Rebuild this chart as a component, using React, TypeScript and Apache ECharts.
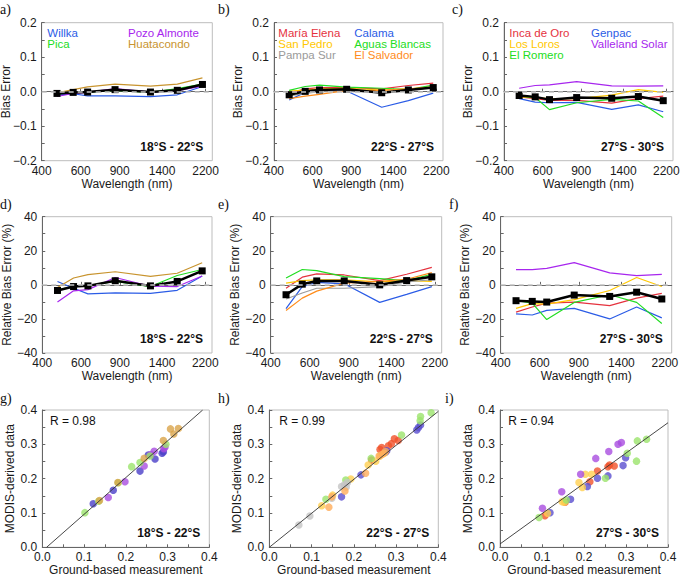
import React, { useEffect, useRef } from "react";
import * as echarts from "echarts";

// ---------------- data ----------------
const WAVELENGTHS = [469, 555, 645, 858, 1240, 1640, 2130];
const WAVE_TICKS = [400, 600, 900, 1400, 2200];
const WAVE_MIN = 400;
const WAVE_MAX = 2360;
const BIAS_MIN = -0.2;
const BIAS_MAX = 0.2;
const BIAS_TICKS = [-0.2, -0.1, 0, 0.1, 0.2];
const REGIONS = ["18°S - 22°S", "22°S - 27°S", "27°S - 30°S"];
const PANEL_LETTERS = ["a)", "b)", "c)", "d)", "e)", "f)", "g)", "h)", "i)"];
const R_VALUES = ["0.98", "0.99", "0.94"];
const FIT_SLOPE = [1.07, 0.99, 0.883];
const FIT_INTERCEPT = [-0.011, 0.0, 0.0097];

const NORTH_SITES = ["Willka", "Pozo Almonte", "Pica", "Huatacondo"];
const CENTRAL_SITES = ["María Elena", "Calama", "San Pedro", "Aguas Blancas", "Pampa Sur", "El Salvador"];
const SOUTH_SITES = ["Inca de Oro", "Genpac", "Los Loros", "Valleland Solar", "El Romero"];

const NORTH_COLORS = ["#2b5ce6", "#a726ee", "#22dd22", "#c8942f"];
const CENTRAL_COLORS = ["#e5323e", "#2b5ce6", "#ffc800", "#22dd22", "#9a9a9a", "#ff8c1a"];
const SOUTH_COLORS = ["#e5323e", "#2b5ce6", "#ffc800", "#a726ee", "#22dd22"];

const NORTH_DOT_COLORS = ["#4a3fc8", "#a94de0", "#9be36b", "#d9a44a"];
const CENTRAL_DOT_COLORS = ["#f0522a", "#5a4fd0", "#ffd050", "#9be36b", "#c4c4c4", "#ffad5a"];
const SOUTH_DOT_COLORS = ["#f0522a", "#5a4fd0", "#ffd050", "#a94de0", "#9be36b"];

// Bias error (absolute)
const NORTH_BIAS = [
  [-0.010, -0.006, -0.012, -0.012, -0.014, -0.009, 0.015],
  [-0.014, -0.005, -0.002, 0.009, -0.001, 0.003, 0.016],
  [-0.004, -0.002, -0.001, 0.004, -0.002, 0.009, 0.022],
  [-0.003, 0.006, 0.014, 0.022, 0.016, 0.022, 0.040],
];
const NORTH_BIAS_MEAN = [-0.005, -0.002, -0.001, 0.006, -0.001, 0.004, 0.021];

const CENTRAL_BIAS = [
  [-0.005, 0.008, 0.012, 0.012, 0.008, 0.018, 0.025],
  [-0.024, -0.002, 0.004, 0.002, -0.045, -0.026, -0.004],
  [0.002, 0.005, 0.008, 0.010, 0.005, 0.008, 0.010],
  [0.004, 0.015, 0.019, 0.013, 0.010, 0.006, 0.019],
  [-0.012, -0.005, 0.000, 0.001, -0.002, 0.005, 0.012],
  [-0.020, -0.013, -0.008, 0.004, 0.004, 0.008, 0.014],
];
const CENTRAL_BIAS_MEAN = [-0.009, 0.001, 0.005, 0.007, -0.003, 0.005, 0.012];

const SOUTH_BIAS = [
  [-0.015, -0.020, -0.025, -0.025, -0.033, -0.020, -0.013],
  [-0.020, -0.030, -0.032, -0.031, -0.051, -0.038, -0.058],
  [-0.015, -0.017, -0.020, -0.020, -0.010, 0.006, -0.002],
  [0.010, 0.018, 0.020, 0.029, 0.017, 0.016, 0.017],
  [-0.012, -0.017, -0.052, -0.032, -0.022, -0.027, -0.075],
];
const SOUTH_BIAS_MEAN = [-0.011, -0.015, -0.023, -0.017, -0.019, -0.014, -0.026];

// Relative bias error (%)
const NORTH_REL = [
  [2, -2, -5.3, -4.7, -5, -3.2, 5.2],
  [-10, -3.5, -2.8, 4.3, -0.8, -1, 5.2],
  [-3, -1, -0.5, 2, -1, 5.5, 9],
  [-1.5, 4, 6, 7.7, 5, 6.8, 13],
];
const NORTH_REL_MEAN = [-3.3, -1, -0.6, 2.4, -0.6, 2, 8.2];

const CENTRAL_REL = [
  [-2, 4.5, 6.4, 5.8, 2.5, 6.2, 10.3],
  [-14, -1, 1.4, 0.6, -10.3, -5.6, -1],
  [1, 2.5, 3, 3, 1.7, 2.5, 2],
  [4, 9, 8.3, 4.8, 3.7, 2.5, 6.2],
  [-8.3, -4.8, -2, -2, -1, 1.7, 3],
  [-15, -7.8, -3.7, 1, 2, 3.3, 7.2],
];
const CENTRAL_REL_MEAN = [-5.8, 0.4, 2.3, 2.3, 0, 2.5, 4.7];

const SOUTH_REL = [
  [-16, -13, -10.7, -10.1, -12.2, -7.8, -5],
  [-17, -17.7, -15, -13.8, -20, -13, -19.4],
  [-13.8, -11, -11.3, -8.7, -3.3, 4.3, -1],
  [8.9, 8.9, 9.7, 13, 7, 5.4, 6.2],
  [-9.1, -10.7, -20.4, -10.3, -5.8, -10.3, -22.7],
];
const SOUTH_REL_MEAN = [-9.3, -9.7, -10.1, -6, -6.8, -4.3, -8.3];

// Ground-based vs MODIS-derived
const NORTH_MATCH = [
  [[0.122, 0.127], [0.170, 0.166], [0.234, 0.222], [0.254, 0.269], [0.270, 0.257], [0.287, 0.274], [0.290, 0.278]],
  [[0.158, 0.145], [0.198, 0.191], [0.244, 0.237], [0.260, 0.270], [0.268, 0.280], [0.294, 0.292], [0.291, 0.287]],
  [[0.102, 0.101], [0.135, 0.134], [0.182, 0.188], [0.214, 0.235], [0.234, 0.247], [0.258, 0.266], [0.296, 0.300]],
  [[0.137, 0.136], [0.181, 0.189], [0.244, 0.259], [0.290, 0.311], [0.307, 0.345], [0.315, 0.330], [0.326, 0.346]],
];
const CENTRAL_MATCH = [
  [[0.242, 0.254], [0.262, 0.285], [0.266, 0.291], [0.282, 0.296], [0.289, 0.302], [0.296, 0.316], [0.305, 0.311]],
  [[0.171, 0.147], [0.217, 0.211], [0.275, 0.277], [0.278, 0.281], [0.349, 0.342], [0.353, 0.349], [0.358, 0.356]],
  [[0.124, 0.121], [0.150, 0.152], [0.193, 0.199], [0.234, 0.240], [0.252, 0.251], [0.262, 0.266], [0.272, 0.274]],
  [[0.134, 0.140], [0.181, 0.196], [0.241, 0.259], [0.313, 0.327], [0.357, 0.369], [0.358, 0.381], [0.383, 0.392]],
  [[0.070, 0.065], [0.096, 0.091], [0.148, 0.143], [0.171, 0.177], [0.178, 0.182], [0.182, 0.176], [0.185, 0.189]],
  [[0.141, 0.117], [0.148, 0.147], [0.179, 0.164], [0.228, 0.216], [0.260, 0.266], [0.268, 0.271], [0.275, 0.279]],
];
const SOUTH_MATCH = [
  [[0.107, 0.092], [0.155, 0.131], [0.214, 0.191], [0.232, 0.222], [0.257, 0.235], [0.261, 0.240], [0.272, 0.237]],
  [[0.119, 0.101], [0.168, 0.140], [0.208, 0.177], [0.232, 0.201], [0.257, 0.208], [0.293, 0.238], [0.299, 0.261]],
  [[0.113, 0.099], [0.148, 0.133], [0.153, 0.131], [0.188, 0.189], [0.196, 0.174], [0.203, 0.213], [0.218, 0.213]],
  [[0.101, 0.114], [0.147, 0.162], [0.192, 0.213], [0.228, 0.259], [0.259, 0.279], [0.281, 0.300], [0.289, 0.305]],
  [[0.093, 0.087], [0.158, 0.138], [0.251, 0.201], [0.303, 0.274], [0.325, 0.251], [0.327, 0.310], [0.349, 0.315]],
];

// ---------------- layout ----------------
const FONT = 'Arial, "Liberation Sans", Helvetica, sans-serif';
const SERIF = '"Liberation Serif", "Times New Roman", serif';
const TEXT = "#1a1a1a";
// [left, top, right, bottom] of each plot area
const BOXES = [
  [41.7, 22.7, 212.3, 160.7],
  [274, 22.7, 443, 160.7],
  [504, 22.7, 673, 160.7],
  [41.7, 216.7, 212, 353],
  [270.7, 216.7, 441.7, 353],
  [500.7, 216.7, 671.7, 353],
  [42.3, 410, 209.3, 547.3],
  [269.3, 410, 438.3, 547.3],
  [500, 410, 668, 547.3],
];
const LETTER_POS = [
  [0, 9], [218, 9], [452, 9],
  [0, 204], [218, 204], [449, 204],
  [0, 398], [218, 398], [445, 398],
];
const LEGEND_COL = [[5.6, 86.3], [4.3, 80.3], [5.3, 87]];
const R_OFFSET = [7.7, 10, 8.3];
const BIAS_NAME_OFFSET = 36;

const fmt = (digits: number) => (v: number) => {
  const x = Math.abs(v) < 1e-9 ? 0 : v;
  return (digits > 0 ? x.toFixed(digits) : String(Math.round(x))).replace("-", "\u2212");
};

function App() {
  const wrapRef = useRef<HTMLDivElement>(null);
  const ref = useRef<HTMLDivElement>(null);
  useEffect(() => {
    document.body.style.margin = "0";
    if (!ref.current || !wrapRef.current) return;
    const chart = echarts.init(ref.current, undefined, { renderer: "svg" });

    const grids: any[] = [];
    const xAxes: any[] = [];
    const yAxes: any[] = [];
    const series: any[] = [];
    const graphics: any[] = [];

    const axisLine = { show: true, lineStyle: { color: "#666", width: 1 } };
    const labelStyle = { color: TEXT, fontSize: 12, fontFamily: FONT };
    const nameStyle = { color: TEXT, fontSize: 12, fontFamily: FONT };

    BOXES.forEach((b) => {
      grids.push({
        left: b[0], top: b[1], width: b[2] - b[0], height: b[3] - b[1],
        show: true, borderColor: "#bdbdbd", borderWidth: 1, backgroundColor: "transparent",
      });
    });

    const siteGroups = [
      { sites: NORTH_SITES, colors: NORTH_COLORS, dots: NORTH_DOT_COLORS, bias: NORTH_BIAS, biasMean: NORTH_BIAS_MEAN, rel: NORTH_REL, relMean: NORTH_REL_MEAN, match: NORTH_MATCH },
      { sites: CENTRAL_SITES, colors: CENTRAL_COLORS, dots: CENTRAL_DOT_COLORS, bias: CENTRAL_BIAS, biasMean: CENTRAL_BIAS_MEAN, rel: CENTRAL_REL, relMean: CENTRAL_REL_MEAN, match: CENTRAL_MATCH },
      { sites: SOUTH_SITES, colors: SOUTH_COLORS, dots: SOUTH_DOT_COLORS, bias: SOUTH_BIAS, biasMean: SOUTH_BIAS_MEAN, rel: SOUTH_REL, relMean: SOUTH_REL_MEAN, match: SOUTH_MATCH },
    ];

    const makeZeroLine = () => ({
      silent: true, symbol: ["none", "none"], label: { show: false },
      lineStyle: { color: "#c4c4c4", type: [5, 4], width: 1.5 },
      data: [{ yAxis: 0 }],
    });

    // wavelength panels (rows 1 and 2)
    for (let row = 0; row < 2; row++) {
      for (let col = 0; col < 3; col++) {
        const p = row * 3 + col;
        const g = siteGroups[col];
        xAxes.push({
          type: "log", logBase: 10, gridIndex: p, min: WAVE_MIN, max: WAVE_MAX,
          axisLine, splitLine: { show: false }, minorTick: { show: false }, minorSplitLine: { show: false },
          axisTick: { show: true, inside: true, length: 3, lineStyle: { color: "#666" }, customValues: WAVE_TICKS },
          axisLabel: { ...labelStyle, margin: 4, customValues: WAVE_TICKS, formatter: (v: number) => String(Math.round(v)) },
          name: "Wavelength (nm)", nameLocation: "middle", nameGap: 17, nameTextStyle: nameStyle,
        });
        const isBias = row === 0;
        yAxes.push({
          type: "value", gridIndex: p,
          min: isBias ? BIAS_MIN : -40, max: isBias ? BIAS_MAX : 40, interval: isBias ? 0.1 : 20,
          axisLine, splitLine: { show: false },
          axisTick: { show: true, inside: true, length: 3, lineStyle: { color: "#666" } },
          minorTick: { show: true, splitNumber: 2, length: 3, lineStyle: { color: "#666" } },
          minorSplitLine: { show: false },
          // Bias Error tick labels are added below, positioned through this axis (convertToPixel)
          axisLabel: { ...labelStyle, show: !isBias, margin: 5, formatter: fmt(0) },
          name: isBias ? "" : "Relative Bias Error (%)",
          nameLocation: "middle", nameGap: 25.5, nameRotate: 90, nameTextStyle: nameStyle,
        });
        if (isBias) {
          const b = BOXES[p];
          graphics.push({
            type: "text", x: b[0] - BIAS_NAME_OFFSET, y: (b[1] + b[3]) / 2, rotation: Math.PI / 2,
            style: { text: "Bias Error", fill: TEXT, font: `12px ${FONT}`, align: "center", verticalAlign: "middle" },
          });
        }
        const vals = isBias ? g.bias : g.rel;
        const mean = isBias ? g.biasMean : g.relMean;
        vals.forEach((arr, s) => {
          series.push({
            type: "line", name: g.sites[s], xAxisIndex: p, yAxisIndex: p,
            data: WAVELENGTHS.map((w, i) => [w, arr[i]]),
            symbol: "none", showSymbol: false, z: 2,
            lineStyle: { color: g.colors[s], width: 1.2 },
            itemStyle: { color: g.colors[s] },
            markLine: s === 0 ? makeZeroLine() : undefined,
          });
        });
        series.push({
          type: "line", name: "Mean", xAxisIndex: p, yAxisIndex: p,
          data: WAVELENGTHS.map((w, i) => [w, mean[i]]),
          symbol: "rect", symbolSize: 7, z: 4,
          lineStyle: { color: "#000", width: 2.5 }, itemStyle: { color: "#000" },
        });
      }
    }

    // scatter panels (row 3)
    for (let col = 0; col < 3; col++) {
      const p = 6 + col;
      const g = siteGroups[col];
      xAxes.push({
        type: "value", gridIndex: p, min: 0, max: 0.4, interval: 0.1,
        axisLine, splitLine: { show: false },
        axisTick: { show: true, inside: true, length: 3, lineStyle: { color: "#666" } },
        minorTick: { show: true, splitNumber: 2, length: 3, lineStyle: { color: "#666" } },
        minorSplitLine: { show: false },
        axisLabel: { ...labelStyle, margin: 4, formatter: fmt(1) },
        name: "Ground-based measurement", nameLocation: "middle", nameGap: 17, nameTextStyle: nameStyle,
      });
      yAxes.push({
        type: "value", gridIndex: p, min: 0, max: 0.4, interval: 0.1,
        axisLine, splitLine: { show: false },
        axisTick: { show: true, inside: true, length: 3, lineStyle: { color: "#666" } },
        minorTick: { show: true, splitNumber: 2, length: 3, lineStyle: { color: "#666" } },
        minorSplitLine: { show: false },
        axisLabel: { ...labelStyle, margin: 5, formatter: fmt(1) },
        name: "MODIS-derived data", nameLocation: "middle", nameGap: 26, nameRotate: 90, nameTextStyle: nameStyle,
      });
      g.match.forEach((pts, s) => {
        series.push({
          type: "scatter", name: g.sites[s], xAxisIndex: p, yAxisIndex: p,
          data: pts, symbol: "circle", symbolSize: 7.5, z: 2,
          itemStyle: { color: g.dots[s], opacity: 0.8 },
        });
      });
      const m = FIT_SLOPE[col];
      const c = FIT_INTERCEPT[col];
      const x0 = Math.max(0, -c / m);
      const x1 = Math.min(0.4, (0.4 - c) / m);
      series.push({
        type: "line", name: "Fit", xAxisIndex: p, yAxisIndex: p,
        data: [[x0, m * x0 + c], [x1, m * x1 + c]],
        symbol: "none", z: 5, lineStyle: { color: "#333", width: 0.9 },
      });
    }

    // texts
    PANEL_LETTERS.forEach((t, i) => {
      graphics.push({
        type: "text", x: LETTER_POS[i][0], y: LETTER_POS[i][1],
        style: { text: t, fill: "#111", font: `14px ${SERIF}`, align: "left", verticalAlign: "middle" },
      });
    });
    BOXES.forEach((b, p) => {
      graphics.push({
        type: "text", x: b[2] - 9, y: b[3] - 14,
        style: { text: REGIONS[p % 3], fill: "#111", font: `bold 12px ${FONT}`, align: "right", verticalAlign: "middle" },
      });
    });
    siteGroups.forEach((g, col) => {
      const b = BOXES[col];
      g.sites.forEach((name, s) => {
        graphics.push({
          type: "text",
          x: b[0] + LEGEND_COL[col][s % 2],
          y: b[1] + 9.8 + Math.floor(s / 2) * 11,
          style: { text: name, fill: g.colors[s], font: `11.5px ${FONT}`, align: "left", verticalAlign: "middle" },
        });
      });
      const sb = BOXES[6 + col];
      graphics.push({
        type: "text", x: sb[0] + R_OFFSET[col], y: sb[1] + 10.7,
        style: { text: `R = ${R_VALUES[col]}`, fill: "#111", font: `12px ${FONT}`, align: "left", verticalAlign: "middle" },
      });
    });

    chart.setOption({
      animation: false,
      backgroundColor: "#fff",
      textStyle: { fontFamily: FONT },
      grid: grids,
      xAxis: xAxes,
      yAxis: yAxes,
      series,
      graphic: graphics,
    });

    // Bias Error tick labels, placed at the pixel positions of the axis ticks
    const wrap = wrapRef.current;
    const tickEls: HTMLElement[] = [];
    for (let p = 0; p < 3; p++) {
      const b = BOXES[p];
      BIAS_TICKS.forEach((v) => {
        let py: any = chart.convertToPixel({ yAxisIndex: p } as any, v);
        if (typeof py !== "number" || !isFinite(py)) {
          py = b[1] + ((BIAS_MAX - v) / (BIAS_MAX - BIAS_MIN)) * (b[3] - b[1]);
        }
        const el = document.createElement("div");
        el.textContent = fmt(1)(v);
        Object.assign(el.style, {
          position: "absolute", left: `${b[0] - 5 - 40}px`, width: "40px",
          top: `${py - 7}px`, height: "14px", lineHeight: "14px",
          textAlign: "right", fontFamily: FONT, fontSize: "12px", color: TEXT,
          whiteSpace: "nowrap", pointerEvents: "none", zIndex: "2",
        });
        wrap.appendChild(el);
        tickEls.push(el);
      });
    }

    return () => {
      tickEls.forEach((el) => el.remove());
      chart.dispose();
    };
  }, []);
  return (
    <div ref={wrapRef} style={{ position: "relative", width: 685, height: 580 }}>
      <div ref={ref} style={{ position: "absolute", left: 0, top: 0, width: 685, height: 580 }} />
    </div>
  );
}

export default App;
